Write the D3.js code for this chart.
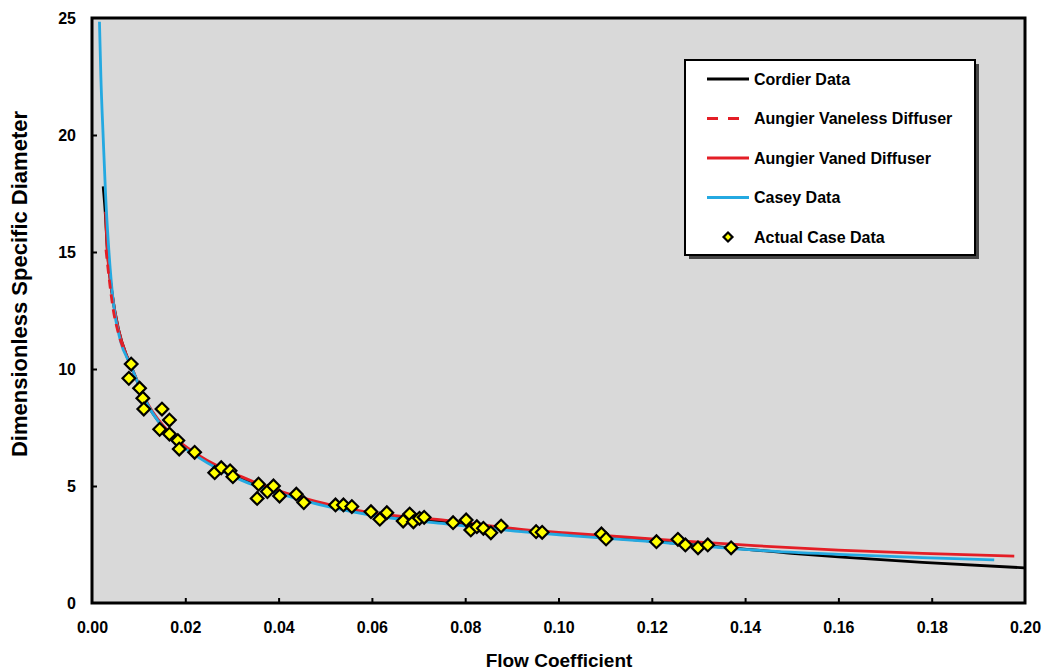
<!DOCTYPE html>
<html>
<head>
<meta charset="utf-8">
<script src="https://cdn.jsdelivr.net/npm/d3@7"></script>
<style>
  body { margin: 0; background: #fff; }
  svg text { font-family: "Liberation Sans", Arial, sans-serif; font-weight: bold; fill: #000; }
</style>
</head>
<body>
<div id="chart"></div>
<script>
// Curves (flow coefficient -> specific diameter)
const cordierX = [0.0024, 0.0029, 0.0032, 0.0043, 0.0057, 0.0075, 0.0082, 0.012, 0.017, 0.023, 0.032, 0.045, 0.060, 0.075, 0.092, 0.1025, 0.120, 0.137, 0.150, 0.160, 0.178, 0.200];
const cordierY = [17.8, 16.5, 15.37, 13.24, 11.67, 10.53, 10.2, 8.45, 7.15, 6.25, 5.32, 4.45, 3.78, 3.48, 3.1, 2.92, 2.64, 2.36, 2.12, 1.97, 1.74, 1.5];

const vanelessX = [0.0030, 0.0036, 0.0045, 0.0057, 0.0069];
const vanelessY = [15.1, 14.0, 12.6, 11.5, 10.8];

const vanedX = [0.0029, 0.0032, 0.0043, 0.0057, 0.0075, 0.0082, 0.012, 0.017, 0.023, 0.032, 0.045, 0.060, 0.075, 0.092, 0.1025, 0.120, 0.142, 0.160, 0.178, 0.1977];
const vanedY = [16.72, 15.37, 13.24, 11.67, 10.53, 10.2, 8.5, 7.2, 6.3, 5.4, 4.5, 3.85, 3.55, 3.15, 2.98, 2.74, 2.45, 2.26, 2.12, 2.0];

const caseyX = [0.0016, 0.0019, 0.0024, 0.0029, 0.0036, 0.0046, 0.0061, 0.0082, 0.012, 0.017, 0.023, 0.032, 0.045, 0.060, 0.075, 0.092, 0.1025, 0.120, 0.142, 0.160, 0.178, 0.1934];
const caseyY = [24.84, 22.5, 19.9, 17.5, 15.1, 12.8, 11.2, 10.2, 8.45, 7.1, 6.2, 5.25, 4.4, 3.75, 3.4, 3.05, 2.88, 2.62, 2.26, 2.08, 1.94, 1.84];

// Actual case data points
const caseX = [0.0084, 0.0079, 0.0102, 0.0109, 0.0111, 0.0150, 0.0166, 0.0145, 0.0166, 0.0184, 0.0187, 0.0220,
  0.0263, 0.0277, 0.0296, 0.0302, 0.0357, 0.0354, 0.0376, 0.0389, 0.0402, 0.0438, 0.0454,
  0.0522, 0.0539, 0.0557, 0.0598, 0.0617, 0.0632, 0.0667, 0.0681, 0.0689, 0.0702, 0.0712,
  0.0774, 0.0802, 0.0812, 0.0825, 0.0839, 0.0855, 0.0877, 0.0952, 0.0965,
  0.1092, 0.1102, 0.1210, 0.1256, 0.1272, 0.1299, 0.1320, 0.1370];
const caseY = [10.21, 9.60, 9.18, 8.75, 8.29, 8.29, 7.82, 7.42, 7.22, 6.94, 6.58, 6.44,
  5.57, 5.78, 5.65, 5.40, 5.08, 4.47, 4.76, 5.00, 4.57, 4.65, 4.29,
  4.19, 4.19, 4.12, 3.90, 3.58, 3.86, 3.50, 3.80, 3.47, 3.62, 3.66,
  3.43, 3.55, 3.12, 3.26, 3.19, 3.00, 3.29, 3.05, 3.02,
  2.95, 2.74, 2.62, 2.72, 2.48, 2.36, 2.48, 2.36];

const xTicks = [0, 0.02, 0.04, 0.06, 0.08, 0.10, 0.12, 0.14, 0.16, 0.18, 0.20];
const yTicks = [0, 5, 10, 15, 20, 25];

const blackColor = "#000000";
const redColor = "#e41e26";
const blueColor = "#24a9e1";

const W = 1044, H = 671;
const margin = { top: 18, right: 19, bottom: 68, left: 92 };
const width = W - margin.left - margin.right;
const height = H - margin.top - margin.bottom;

const svg = d3.select("#chart").append("svg")
    .attr("width", W)
    .attr("height", H);

const g = svg.append("g")
    .attr("transform", `translate(${margin.left},${margin.top})`);

const x = d3.scaleLinear().domain([0, 0.2]).range([0, width]);
const y = d3.scaleLinear().domain([0, 25]).range([height, 0]);

// plot area
g.append("rect")
    .attr("width", width)
    .attr("height", height)
    .attr("fill", "#d9d9d9");

g.append("clipPath").attr("id", "plotclip")
    .append("rect").attr("width", width).attr("height", height);

const line = d3.line()
    .x(d => x(d[0]))
    .y(d => y(d[1]))
    .curve(d3.curveMonotoneX);

const series = [
    { xs: cordierX, ys: cordierY, color: blackColor, dash: null },
    { xs: vanedX, ys: vanedY, color: redColor, dash: null },
    { xs: caseyX, ys: caseyY, color: blueColor, dash: null },
    { xs: vanelessX, ys: vanelessY, color: redColor, dash: "9,6" }
];

const lines = g.append("g").attr("clip-path", "url(#plotclip)");
series.forEach(s => {
    lines.append("path")
        .datum(s.xs.map((v, i) => [v, s.ys[i]]))
        .attr("fill", "none")
        .attr("stroke", s.color)
        .attr("stroke-width", 2.8)
        .attr("stroke-dasharray", s.dash)
        .attr("d", line);
});

// markers
const diamond = d3.symbol().type(d3.symbolSquare).size(80);
g.append("g").selectAll("path")
    .data(caseX.map((v, i) => [v, caseY[i]]))
    .join("path")
    .attr("d", diamond)
    .attr("transform", d => `translate(${x(d[0])},${y(d[1])}) rotate(45)`)
    .attr("fill", "#ffff00")
    .attr("stroke", "#000")
    .attr("stroke-width", 2.2);

// axes, ticks inside
const xAxis = g.append("g")
    .attr("transform", `translate(0,${height})`)
    .call(d3.axisBottom(x).tickValues(xTicks).tickFormat(d3.format(".2f")).tickSizeInner(-5).tickSizeOuter(0).tickPadding(19));
const yAxis = g.append("g")
    .call(d3.axisLeft(y).tickValues(yTicks).tickSizeInner(-5).tickSizeOuter(0).tickPadding(16));

[xAxis, yAxis].forEach(a => {
    a.select(".domain").remove();
    a.selectAll(".tick line").attr("stroke", "#000").attr("stroke-width", 2);
    a.selectAll(".tick text").style("font-size", "16px");
});
xAxis.selectAll(".tick").filter(d => d === 0 || d === 0.2).select("line").remove();
yAxis.selectAll(".tick").filter(d => d === 0 || d === 25).select("line").remove();

g.append("rect")
    .attr("width", width)
    .attr("height", height)
    .attr("fill", "none")
    .attr("stroke", "#000")
    .attr("stroke-width", 3);

// axis titles
svg.append("text")
    .attr("x", 559)
    .attr("y", 667)
    .attr("text-anchor", "middle")
    .style("font-size", "19px")
    .text("Flow Coefficient");

svg.append("text")
    .attr("transform", "translate(27,284) rotate(-90)")
    .attr("text-anchor", "middle")
    .style("font-size", "22px")
    .text("Dimensionless Specific Diameter");

// legend
const legend = svg.append("g").attr("transform", "translate(685,60)");
legend.append("rect")
    .attr("x", 4).attr("y", 4)
    .attr("width", 290).attr("height", 195)
    .attr("fill", "#444");
legend.append("rect")
    .attr("width", 290).attr("height", 195)
    .attr("fill", "#fff")
    .attr("stroke", "#000")
    .attr("stroke-width", 2);

const legendItems = [
    { name: "Cordier Data", color: blackColor, dash: null, type: "line", end: 64 },
    { name: "Aungier Vaneless Diffuser", color: redColor, dash: "11,10", type: "line", end: 54 },
    { name: "Aungier Vaned Diffuser", color: redColor, dash: null, type: "line", end: 64 },
    { name: "Casey Data", color: blueColor, dash: null, type: "line", end: 64 },
    { name: "Actual Case Data", type: "marker" }
];

legendItems.forEach((d, i) => {
    const row = legend.append("g").attr("transform", `translate(0,${19 + i * 39.5})`);
    if (d.type === "line") {
        row.append("line")
            .attr("x1", 22).attr("x2", d.end)
            .attr("stroke", d.color)
            .attr("stroke-width", 2.8)
            .attr("stroke-dasharray", d.dash);
    } else {
        row.append("path")
            .attr("d", d3.symbol().type(d3.symbolSquare).size(40))
            .attr("transform", "translate(43,0) rotate(45)")
            .attr("fill", "#ffff00")
            .attr("stroke", "#000")
            .attr("stroke-width", 2.2);
    }
    row.append("text")
        .attr("x", 69)
        .attr("dy", "0.35em")
        .style("font-size", "16px")
        .text(d.name);
});
</script>
</body>
</html>
